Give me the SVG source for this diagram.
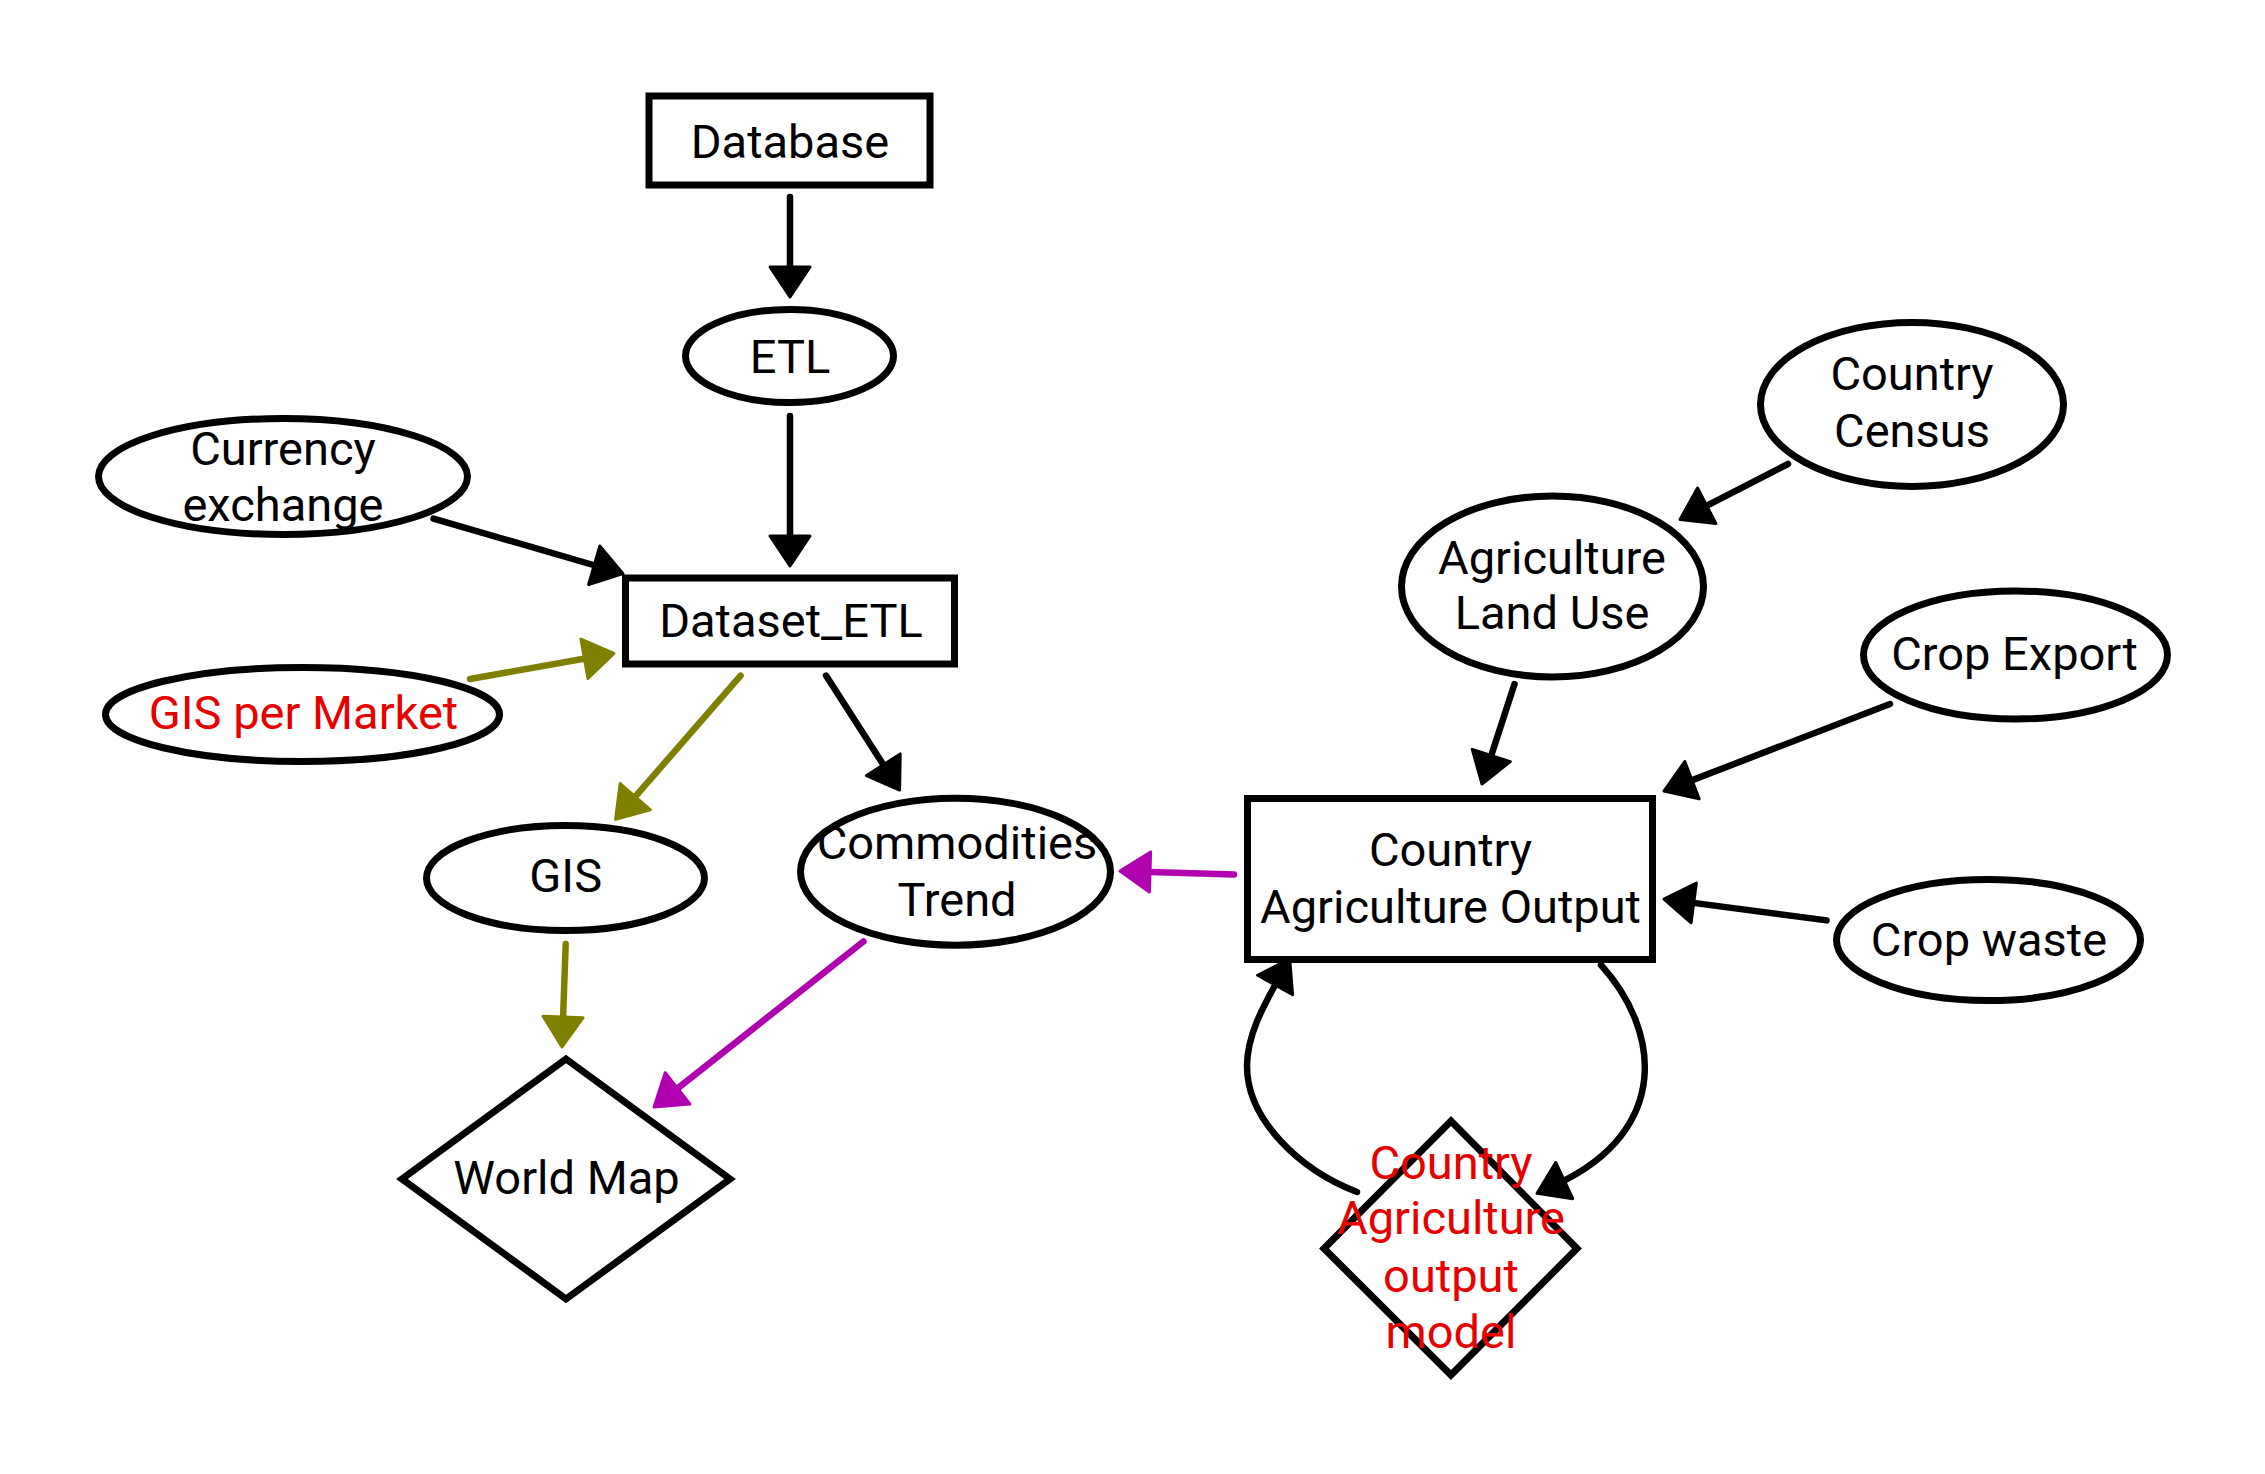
<svg xmlns="http://www.w3.org/2000/svg" width="2265" height="1474" viewBox="0 0 2265 1474">
<style>
.n{fill:#fff;stroke:#000;stroke-width:7}
.t{font-family:Roboto,"Liberation Sans",sans-serif;font-size:47px;fill:#000;text-anchor:middle}
.r{fill:#e60000}
.c{fill:none;stroke-width:6.5;stroke-linecap:round}
.k{stroke:#000;marker-end:url(#ak)}
.o{stroke:#808000;marker-end:url(#ao)}
.m{stroke:#b000b0;marker-end:url(#am)}
</style>
<defs>
<marker id="ak" markerUnits="userSpaceOnUse" viewBox="-3 -3 36 46" markerWidth="36" markerHeight="46" refX="8" refY="20" orient="auto"><path d="M0,0 L30,20 L0,40 z" fill="#000" stroke="#000" stroke-width="3" stroke-linejoin="round"/></marker>
<marker id="ao" markerUnits="userSpaceOnUse" viewBox="-3 -3 36 46" markerWidth="36" markerHeight="46" refX="8" refY="20" orient="auto"><path d="M0,0 L30,20 L0,40 z" fill="#808000" stroke="#808000" stroke-width="3" stroke-linejoin="round"/></marker>
<marker id="am" markerUnits="userSpaceOnUse" viewBox="-3 -3 36 46" markerWidth="36" markerHeight="46" refX="8" refY="20" orient="auto"><path d="M0,0 L30,20 L0,40 z" fill="#b000b0" stroke="#b000b0" stroke-width="3" stroke-linejoin="round"/></marker>
</defs>
<rect width="2265" height="1474" fill="#fff"/>
<g id="connectors">
<path class="c k" d="M790,197 L790,275"/>
<path class="c k" d="M790,416 L790,544"/>
<path class="c k" d="M433.5,518.6 L601.9,567.5"/>
<path class="c o" d="M470,679 L592.3,657.3"/>
<path class="c o" d="M740.6,675.6 L630,802.7"/>
<path class="c k" d="M826,675.6 L887.7,771.5"/>
<path class="c o" d="M565.7,944 L562.8,1025"/>
<path class="c m" d="M863.4,941.5 L671.3,1093.4"/>
<path class="c m" d="M1234,874.5 L1142,871.7"/>
<path class="c k" d="M1788,464 L1699.6,509.4"/>
<path class="c k" d="M1514.5,684 L1488.8,763.1"/>
<path class="c k" d="M1890,704 L1684.5,783.1"/>
<path class="c k" d="M1826.6,920.4 L1685.8,901.9"/>
<path class="c k" d="M1601,965 C1660,1030 1672,1130 1557,1184"/>
<path class="c k" d="M1357,1192 C1300,1170 1247,1120 1247,1066 C1247,1035 1264,1005 1279,978"/>
</g>
<g id="database"><rect class="n" x="649" y="96" width="281" height="89"/><text class="t" x="790" y="158">Database</text></g>
<g id="etl"><ellipse class="n" cx="789.5" cy="356" rx="104" ry="46.5"/><text class="t" x="790" y="373">ETL</text></g>
<g id="currency"><ellipse class="n" cx="283" cy="476.5" rx="184.5" ry="58"/><text class="t" x="283" y="464.5">Currency</text><text class="t" x="283" y="521">exchange</text></g>
<g id="dataset_etl"><rect class="n" x="625.5" y="578" width="329" height="86"/><text class="t" x="791" y="637">Dataset_ETL</text></g>
<g id="gis_market"><ellipse class="n" cx="302.5" cy="714.5" rx="197" ry="47"/><text class="t r" x="303.5" y="729">GIS per Market</text></g>
<g id="gis"><ellipse class="n" cx="565.5" cy="878" rx="139" ry="52.5"/><text class="t" x="565.7" y="892">GIS</text></g>
<g id="commodities"><ellipse class="n" cx="955.5" cy="871.7" rx="155" ry="73.5"/><text class="t" x="957" y="859">Commodities</text><text class="t" x="957" y="915.6">Trend</text></g>
<g id="worldmap"><polygon class="n" points="566,1059 402,1179 566,1299 730,1179"/><text class="t" x="566.5" y="1194">World Map</text></g>
<g id="cao"><rect class="n" x="1247.5" y="798.5" width="405" height="161"/><text class="t" x="1450.5" y="866">Country</text><text class="t" x="1450.5" y="922.7">Agriculture Output</text></g>
<g id="census"><ellipse class="n" cx="1912" cy="404.4" rx="151.5" ry="82"/><text class="t" x="1912" y="390">Country</text><text class="t" x="1912" y="446.6">Census</text></g>
<g id="landuse"><ellipse class="n" cx="1552.5" cy="586.5" rx="151" ry="90.5"/><text class="t" x="1552" y="573.6">Agriculture</text><text class="t" x="1552" y="629">Land Use</text></g>
<g id="cropexport"><ellipse class="n" cx="2015.5" cy="655" rx="152" ry="64"/><text class="t" x="2014.5" y="670">Crop Export</text></g>
<g id="cropwaste"><ellipse class="n" cx="1988.5" cy="940" rx="152" ry="60.5"/><text class="t" x="1989" y="955.6">Crop waste</text></g>
<g id="model"><polygon class="n" points="1451,1121 1324,1248.5 1451,1375 1577,1248.5"/><text class="t r" x="1451" y="1179">Country</text><text class="t r" x="1451" y="1234.4">Agriculture</text><text class="t r" x="1451" y="1291.8">output</text><text class="t r" x="1451" y="1348">model</text></g>
</svg>
